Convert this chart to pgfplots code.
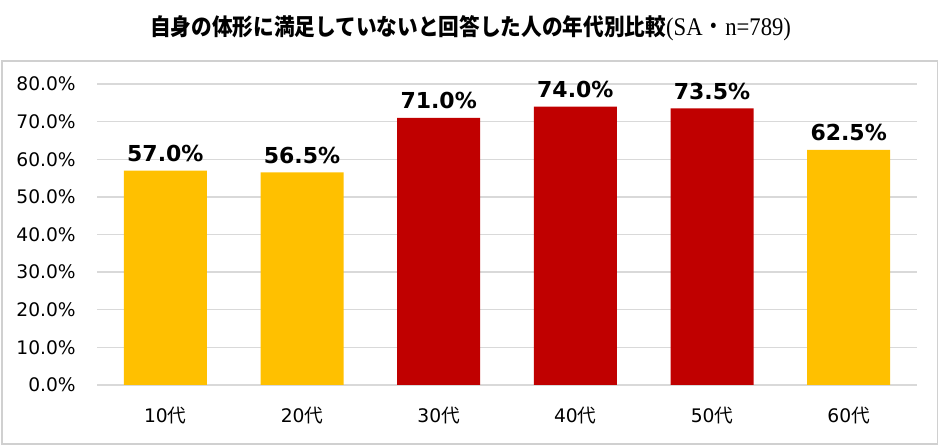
\documentclass[border=0pt]{standalone}
\usepackage{graphicx}
\usepackage{pgfplots}
\pgfplotsset{compat=1.18}
\usepackage{fontspec}
\setmainfont{DejaVu Sans}
\newfontfamily\cjk{Noto Sans CJK JP}
\newfontfamily\serifl{Liberation Serif}
\definecolor{barY}{HTML}{FFC000}
\definecolor{barR}{HTML}{C00000}
\definecolor{gridc}{HTML}{D9D9D9}
\definecolor{framec}{HTML}{D0D0D0}
\begin{document}
\begin{tikzpicture}
\useasboundingbox (0,0) rectangle (705pt,334.5pt);
\draw[framec, line width=1.2pt] (1.5pt,1.5pt) rectangle (703pt,288.75pt);
\node[inner sep=0pt] at (352.9pt,313pt) {\scalebox{1}[1.12]{{\fontsize{15.5}{18}\selectfont\cjk\bfseries 自身の体形に満足していないと回答した人の年代別比較}{\fontsize{17}{19}\selectfont\serifl (SA{\cjk ・}n=789)}}};
\begin{axis}[
  at={(72.75pt,45.75pt)}, anchor=south west,
  scale only axis, width=615pt, height=225.75pt,
  ybar, bar width=62.25pt,
  xmin=-0.5, xmax=5.5, ymin=0, ymax=80,
  ytick={0,10,...,80},
  yticklabel={\pgfmathprintnumber[fixed,fixed zerofill,precision=1]{\tick}\%},
  xtick={0,1,2,3,4,5},
  xticklabels={10{\cjk 代},20{\cjk 代},30{\cjk 代},40{\cjk 代},50{\cjk 代},60{\cjk 代}},
  axis line style={draw=none},
  major tick length=0pt,
  ymajorgrids,
  grid style={gridc, line width=1.1pt},
  /pgf/number format/assume math mode=true,
  tick label style={font=\fontsize{14}{16}\selectfont, text=black},
  yticklabel style={anchor=east, inner sep=0pt, xshift=-15.75pt},
  xticklabel style={anchor=north, inner sep=0pt, yshift=-16pt},
  nodes near coords={\pgfmathprintnumber[fixed,fixed zerofill,precision=1]{\pgfplotspointmeta}\%},
  nodes near coords style={font=\fontsize{16.5}{18}\selectfont\bfseries, anchor=south, inner sep=0pt, yshift=6.5pt, text=black},
  clip=false,
]
\addplot[fill=barY, draw=none, bar shift=0pt] coordinates {(0,57.0) (1,56.5) (5,62.5)};
\addplot[fill=barR, draw=none, bar shift=0pt] coordinates {(2,71.0) (3,74.0) (4,73.5)};
\end{axis}
\end{tikzpicture}
\end{document}
